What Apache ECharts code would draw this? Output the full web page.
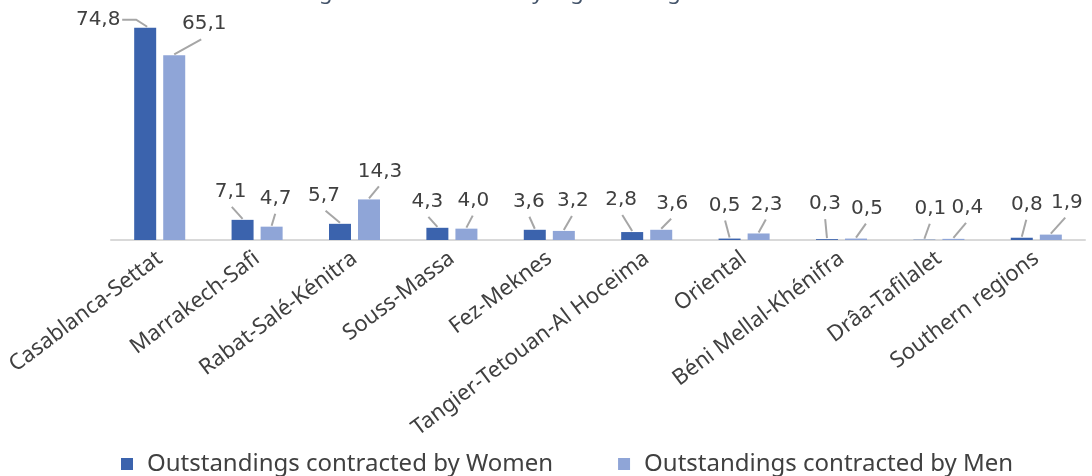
<!DOCTYPE html>
<html>
<head>
<meta charset="utf-8">
<script src="https://cdn.jsdelivr.net/npm/echarts@6/dist/echarts.min.js"></script>
<style>
html,body{margin:0;padding:0;background:#fff;}
#chart{width:1092px;height:476px;}
</style>
</head>
<body>
<div id="chart"></div>
<script>
const categories = ["Casablanca-Settat","Marrakech-Safi","Rabat-Salé-Kénitra","Souss-Massa","Fez-Meknes","Tangier-Tetouan-Al Hoceima","Oriental","Béni Mellal-Khénifra","Drâa-Tafilalet","Southern regions"];
const women = [74.8, 7.1, 5.7, 4.3, 3.6, 2.8, 0.5, 0.3, 0.1, 0.8];
const men = [65.1, 4.7, 14.3, 4.0, 3.2, 3.6, 2.3, 0.5, 0.4, 1.9];
const seriesNames = ["Outstandings contracted by Women", "Outstandings contracted by Men"];
const titleText = "Outstanding credit contracted by region and gender";

// label offsets (layout only): [dx, dy] of label centre relative to bar top centre
const womenLabelOffsets = [[-47,-8],[-12,-28],[-16,-28],[-10,-26],[-6,-28],[-11,-32],[-5,-33],[-2,-35],[6,-31],[5,-33]];
const menLabelOffsets = [[30,-31],[4,-28],[11,-28],[7,-28],[9,-30],[11,-26],[8,-29],[11,-30],[14,-31],[16,-32]];
const offsets = [womenLabelOffsets, menLabelOffsets];

const BAR_W = 22;
const BAR_GAP = 0.32;
const LABEL_FS = 20;
const fmt = v => v.toFixed(1).replace('.', ',');

// leader line data derived from the series arrays: [categoryIndex, value, seriesIndex]
const leaderData = [];
[women, men].forEach((arr, s) => arr.forEach((v, i) => leaderData.push([i, v, s])));

const chart = echarts.init(document.getElementById('chart'), null, {renderer: 'canvas'});

function makeSeries(name, data, color, idx) {
  return {
    name: name,
    type: 'bar',
    data: data,
    barWidth: BAR_W,
    barGap: (BAR_GAP * 100) + '%',
    itemStyle: {color: color},
    label: {
      show: true,
      position: 'top',
      distance: 5,
      formatter: p => fmt(p.value),
      fontFamily: 'DejaVu Sans',
      fontSize: LABEL_FS,
      color: '#404040'
    },
    labelLayout: function (p) {
      const o = offsets[idx][p.dataIndex];
      const r = p.rect;
      const cx = r.x + r.width / 2;
      const top = Math.min(r.y, r.y + r.height);
      return {x: cx + o[0], y: top + o[1], align: 'center', verticalAlign: 'middle'};
    }
  };
}

const leaderSeries = {
  type: 'custom',
  name: 'leaders',
  silent: true,
  z: 5,
  data: leaderData,
  encode: {x: 0, y: 1},
  renderItem: function (params, api) {
    const i = api.value(0), v = api.value(1), s = api.value(2);
    const pt = api.coord([i, v]);
    const half = (BAR_W + BAR_W * BAR_GAP) / 2;
    const cx = pt[0] + (s === 0 ? -half : half);
    const top = pt[1];
    const o = offsets[s][i];
    const lx = cx + o[0], ly = top + o[1];
    let pts;
    if (Math.abs(o[1]) < 15) {
      const sx = lx + 24;
      pts = [[sx, ly], [sx + 14, ly], [cx + 2, top - 1]];
    } else {
      const sx = lx + (cx - lx) * 0.1;
      pts = [[sx, ly + 15], [cx, top - 1]];
    }
    return {
      type: 'polyline',
      shape: {points: pts},
      style: {stroke: '#a6a6a6', lineWidth: 2, fill: null}
    };
  }
};

chart.setOption({
  animation: false,
  title: {
    text: titleText,
    left: 198,
    top: -23,
    textStyle: {fontFamily: 'Noto Sans', fontSize: 22, fontWeight: 'normal', color: '#44546a'}
  },
  grid: {left: 111, right: 7, top: 13, bottom: 236, containLabel: false},
  legend: {
    data: seriesNames,
    left: 116,
    top: 447,
    icon: 'rect',
    itemWidth: 12,
    itemHeight: 12,
    itemGap: 65,
    textStyle: {fontFamily: 'Noto Sans', fontSize: 24, color: '#404040', padding: [0, 0, 0, 9]}
  },
  xAxis: {
    type: 'category',
    data: categories,
    axisLine: {show: true, lineStyle: {color: '#d9d9d9', width: 2}},
    axisTick: {show: false},
    axisLabel: {
      interval: 0,
      rotate: 37,
      margin: 16,
      fontFamily: 'Noto Sans',
      fontSize: 22,
      color: '#404040'
    }
  },
  yAxis: {type: 'value', min: 0, max: 80, show: false, splitLine: {show: false}},
  series: [
    makeSeries(seriesNames[0], women, '#3b63ad', 0),
    makeSeries(seriesNames[1], men, '#8fa5d7', 1),
    leaderSeries
  ]
});
</script>
</body>
</html>
